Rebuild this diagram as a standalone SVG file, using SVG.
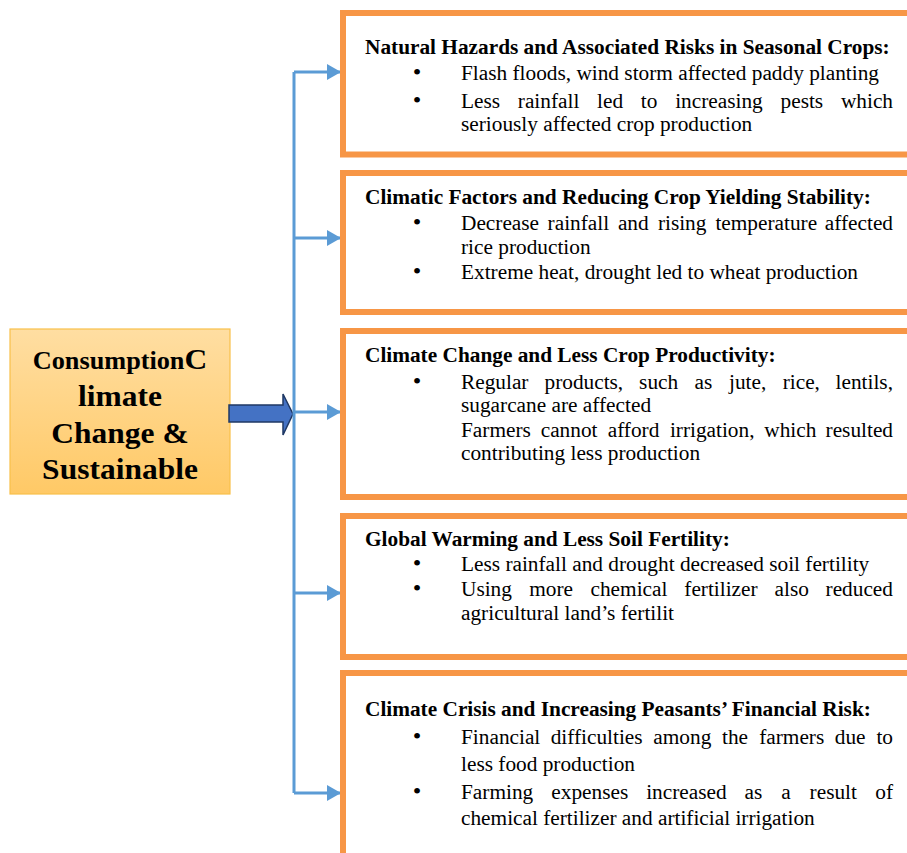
<svg xmlns="http://www.w3.org/2000/svg" width="907" height="853" viewBox="0 0 907 853">
<style>
.box { fill: #FFFFFF; stroke: #F79646; stroke-width: 6; }
.t { font-family: "Liberation Serif", "Times New Roman", serif; font-size: 20px; fill: #000000; }
.b { font-weight: bold; }
.bl { font-size: 23px; }
.e { text-anchor: end; }
.conn { stroke: #5B9BD5; stroke-width: 3; fill: none; }
.main { font-family: "Liberation Serif", "Times New Roman", serif; font-weight: bold; font-size: 30px; fill: #000000; text-anchor: middle; }
</style>
<defs>
<linearGradient id="gold" x1="0" y1="0" x2="0" y2="1">
<stop offset="0" stop-color="#FFDEA2"/>
<stop offset="1" stop-color="#FFC966"/>
</linearGradient>
<marker id="ah" markerUnits="userSpaceOnUse" markerWidth="15" markerHeight="17" refX="14" refY="8" orient="auto">
<path d="M0,0 L14,8 L0,16 Z" fill="#5B9BD5"/>
</marker>
</defs>

<g id="center">
<rect x="10" y="329" width="220" height="165" fill="url(#gold)" stroke="#F9C04A" stroke-width="1.2"/>
<g transform="translate(120 0) scale(1.05 1)">
<text class="main" x="0" y="369"><tspan font-size="25">Consumption</tspan>C</text>
<text class="main" x="0" y="406">limate</text>
<text class="main" x="0" y="443">Change &amp;</text>
<text class="main" x="0" y="479">Sustainable</text>
</g>
</g>

<g id="connectors">
<path d="M229,405 L283,405 L283,394 L293,414 L283,435 L283,422 L229,422 Z" fill="#4472C4" stroke="#1F3864" stroke-width="1.5"/>
<path class="conn" d="M294,72 L294,793"/>
<path class="conn" d="M294,72 L341,72" marker-end="url(#ah)"/>
<path class="conn" d="M294,238 L341,238" marker-end="url(#ah)"/>
<path class="conn" d="M294,412 L341,412" marker-end="url(#ah)"/>
<path class="conn" d="M294,593 L341,593" marker-end="url(#ah)"/>
<path class="conn" d="M294,793 L341,793" marker-end="url(#ah)"/>
</g>

<g id="box1">
<rect class="box" x="343" y="13" width="600" height="141.5"/>
<g class="t" transform="translate(365 0) scale(1.066 1)">
<text class="b" x="0" y="54">Natural Hazards and Associated Risks in Seasonal Crops:</text>
<text class="bl" x="44.84" y="80">•</text>
<text x="90.06" y="80">Flash floods, wind storm affected paddy planting</text>
<text class="bl" x="44.84" y="108">•</text>
<text y="108"><tspan x="90.06">Less</tspan><tspan x="143.35">rainfall</tspan><tspan x="217.73">led</tspan><tspan x="258.8">to</tspan><tspan x="290.98">increasing</tspan><tspan x="389.81">pests</tspan></text>
<text class="e" x="495.31" y="108">which</text>
<text x="90.06" y="131">seriously affected crop production</text>
</g>
</g>

<g id="box2">
<rect class="box" x="343" y="173" width="600" height="139"/>
<g class="t" transform="translate(365 0) scale(1.066 1)">
<text class="b" x="0" y="204">Climatic Factors and Reducing Crop Yielding Stability:</text>
<text class="bl" x="44.84" y="230">•</text>
<text y="230"><tspan x="90.06">Decrease</tspan><tspan x="171.29">rainfall</tspan><tspan x="237.24">and</tspan><tspan x="274.77">rising</tspan><tspan x="328.71">temperature</tspan></text>
<text class="e" x="495.31" y="230">affected</text>
<text x="90.06" y="254">rice production</text>
<text class="bl" x="44.84" y="279">•</text>
<text x="90.06" y="279">Extreme heat, drought led to wheat production</text>
</g>
</g>

<g id="box3">
<rect class="box" x="343" y="331" width="600" height="166"/>
<g class="t" transform="translate(365 0) scale(1.066 1)">
<text class="b" x="0" y="362">Climate Change and Less Crop Productivity:</text>
<text class="bl" x="44.84" y="389">•</text>
<text y="389"><tspan x="90.06">Regular</tspan><tspan x="168.39">products,</tspan><tspan x="257.13">such</tspan><tspan x="309.1">as</tspan><tspan x="341.47">jute,</tspan><tspan x="391.84">rice,</tspan></text>
<text class="e" x="495.31" y="389">lentils,</text>
<text x="90.06" y="412">sugarcane are affected</text>
<text y="437"><tspan x="90.06">Farmers</tspan><tspan x="164.82">cannot</tspan><tspan x="227.67">afford</tspan><tspan x="286.02">irrigation,</tspan><tspan x="374.58">which</tspan></text>
<text class="e" x="495.31" y="437">resulted</text>
<text x="90.06" y="460">contributing less production</text>
</g>
</g>

<g id="box4">
<rect class="box" x="343" y="516" width="600" height="141"/>
<g class="t" transform="translate(365 0) scale(1.066 1)">
<text class="b" x="0" y="546">Global Warming and Less Soil Fertility:</text>
<text class="bl" x="44.84" y="571">•</text>
<text x="90.06" y="571">Less rainfall and drought decreased soil fertility</text>
<text class="bl" x="44.84" y="596">•</text>
<text y="596"><tspan x="90.06">Using</tspan><tspan x="154.03">more</tspan><tspan x="211.54">chemical</tspan><tspan x="299.53">fertilizer</tspan><tspan x="384.24">also</tspan></text>
<text class="e" x="495.31" y="596">reduced</text>
<text x="90.06" y="620">agricultural land’s fertilit</text>
</g>
</g>

<g id="box5">
<rect class="box" x="343" y="673" width="600" height="300"/>
<g class="t" transform="translate(365 0) scale(1.066 1)">
<text class="b" x="0" y="716">Climate Crisis and Increasing Peasants’ Financial Risk:</text>
<text class="bl" x="44.84" y="744">•</text>
<text y="744"><tspan x="90.06">Financial</tspan><tspan x="174.2">difficulties</tspan><tspan x="270.45">among</tspan><tspan x="334.9">the</tspan><tspan x="369.8">farmers</tspan><tspan x="440.71">due</tspan></text>
<text class="e" x="495.31" y="744">to</text>
<text x="90.06" y="771">less food production</text>
<text class="bl" x="44.84" y="799">•</text>
<text y="799"><tspan x="90.06">Farming</tspan><tspan x="174.77">expenses</tspan><tspan x="263.79">increased</tspan><tspan x="356.1">as</tspan><tspan x="390.43">a</tspan><tspan x="417.07">result</tspan></text>
<text class="e" x="495.31" y="799">of</text>
<text x="90.06" y="825">chemical fertilizer and artificial irrigation</text>
</g>
</g>
</svg>
